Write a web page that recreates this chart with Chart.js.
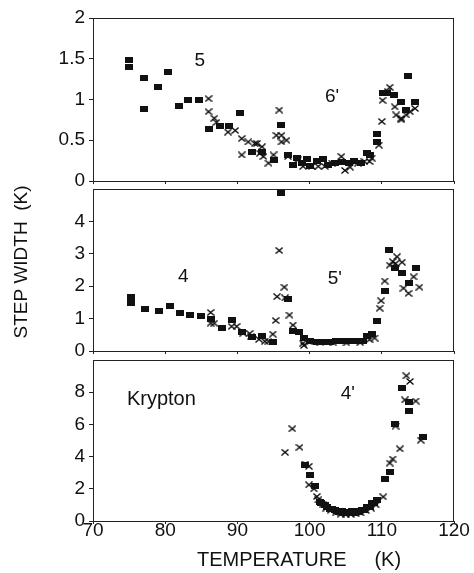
<!DOCTYPE html>
<html><head><meta charset="utf-8">
<script src="https://cdn.jsdelivr.net/npm/chart.js@4/dist/chart.umd.min.js"></script>
<style>
html,body{margin:0;padding:0;background:#fff;width:474px;height:573px;overflow:hidden}
canvas{position:absolute;left:0}
</style></head><body>
<canvas id="c1" width="474" height="190" style="top:0px"></canvas>
<canvas id="c2" width="474" height="178" style="top:181px"></canvas>
<canvas id="c3" width="474" height="222" style="top:351px"></canvas>
<script>
// ---- Data (temperature K, step width K) ----
const xTicks = [70, 80, 90, 100, 110, 120];
const yTicks1 = [0, 0.5, 1, 1.5, 2];
const yTicks2 = [0, 1, 2, 3, 4];
const yTicks3 = [0, 2, 4, 6, 8];

// Panel 1 (steps 5 / 6')
const sq1T = [75.0,75.0,77.1,77.1,79.0,80.4,81.9,83.2,84.7,86.1,87.6,88.9,90.4,92.0,93.4,95.0,96.0,97.0,97.7,98.2,98.9,99.7,100.0,101.0,101.9,102.6,103.5,104.5,105.4,106.2,107.1,107.9,108.3,109.3,109.3,110.1,110.7,111.7,112.6,113.6,113.4,114.6];
const sq1W = [1.48,1.40,1.26,0.88,1.15,1.34,0.92,1.00,0.99,0.64,0.68,0.68,0.84,0.36,0.36,0.26,0.69,0.32,0.20,0.28,0.22,0.27,0.18,0.24,0.27,0.20,0.22,0.23,0.22,0.25,0.22,0.34,0.32,0.48,0.58,1.08,1.08,1.06,0.97,1.29,0.87,0.97];
const cr1T = [86.0,86.0,86.8,87.1,88.7,89.7,90.6,90.6,91.5,92.4,92.7,93.1,93.4,93.6,94.3,95.0,95.4,95.8,96.1,96.1,96.8,97.0,98.4,99.1,100.3,101.2,102.1,103.1,104.4,104.9,105.6,106.7,107.6,108.3,108.6,109.6,110.0,110.1,110.8,111.1,111.8,112.0,112.7,112.7,113.4,113.9,114.6];
const cr1W = [1.01,0.85,0.77,0.72,0.60,0.62,0.52,0.32,0.48,0.46,0.46,0.34,0.42,0.30,0.22,0.32,0.56,0.87,0.56,0.48,0.50,0.30,0.26,0.18,0.18,0.18,0.18,0.22,0.30,0.13,0.17,0.22,0.24,0.24,0.28,0.44,0.73,0.99,1.10,1.15,0.91,0.81,0.75,0.77,0.81,0.85,0.89];

// Panel 2 (steps 4 / 5')
const sq2T = [75.2,75.2,77.2,79.2,80.7,82.1,83.4,84.9,86.3,87.9,89.2,90.6,92.0,93.4,94.9,96.1,97.0,97.7,98.6,99.2,100.1,101.0,102.0,102.8,103.7,104.6,105.6,106.5,107.4,108.0,108.7,109.4,110.4,111.0,111.8,112.8,113.7,114.7];
const sq2W = [1.68,1.49,1.31,1.23,1.38,1.18,1.11,1.07,0.98,0.72,0.95,0.60,0.42,0.47,0.29,4.89,1.60,0.63,0.60,0.40,0.30,0.28,0.29,0.28,0.30,0.31,0.31,0.30,0.30,0.46,0.52,0.93,1.86,3.12,2.55,2.40,2.09,2.55];
const cr2T = [86.3,86.3,86.8,89.2,89.9,90.8,91.7,91.9,93.0,93.8,94.3,94.9,95.3,95.5,95.8,96.5,96.6,97.2,97.7,99.1,99.2,100.0,101.5,103.3,105.1,107.0,108.3,109.0,109.7,109.9,110.4,111.1,111.5,111.9,112.1,112.8,113.0,113.7,114.4,115.2];
const cr2W = [1.19,0.86,0.86,0.76,0.76,0.55,0.54,0.45,0.36,0.30,0.30,0.52,0.94,1.68,3.10,1.97,1.64,1.11,0.80,0.24,0.17,0.28,0.26,0.25,0.25,0.26,0.35,0.40,1.32,1.55,2.16,2.65,2.76,2.70,2.91,2.74,1.94,1.78,2.29,1.97];

// Panel 3 (Krypton, step 4')
const sq3T = [99.3,100.1,100.7,101.4,101.6,102.1,102.4,102.8,103.1,103.5,103.8,104.1,104.5,104.8,105.2,105.5,105.9,106.2,106.6,106.9,107.3,107.6,108.0,108.3,108.7,108.9,109.4,110.4,111.2,111.8,112.8,113.8,113.8,115.7];
const sq3W = [3.50,2.85,2.17,1.20,1.10,0.97,0.90,0.77,0.73,0.67,0.65,0.56,0.60,0.52,0.58,0.50,0.60,0.50,0.60,0.56,0.70,0.71,0.88,0.88,1.10,1.09,1.31,2.60,3.02,6.00,8.29,7.42,6.83,5.23];
const cr3T = [96.6,97.6,98.6,99.4,99.9,99.9,100.6,101.0,101.2,101.8,102.3,102.9,103.6,104.3,105.0,105.7,106.4,107.1,107.8,108.5,109.2,110.2,111.1,111.5,111.9,112.5,113.2,113.4,113.9,114.7,115.4];
const cr3W = [4.27,5.73,4.58,3.54,3.40,2.25,2.00,1.52,1.31,1.00,0.80,0.65,0.50,0.42,0.40,0.42,0.45,0.50,0.65,0.80,1.00,1.50,3.60,3.85,5.90,4.48,7.52,9.02,8.67,7.45,5.02];

// Text labels
const panelLabels1 = ["5", "6'"];
const panelLabels2 = ["4", "5'"];
const panelLabels3 = ["Krypton", "4'"];
const xTitle = "TEMPERATURE     (K)";
const yTitle = "STEP WIDTH  (K)";

// ---- Styling ----
const FONT = "'Liberation Sans', Arial, Helvetica, sans-serif";
const INK = '#111';

function makeSquare() {
  const c = document.createElement('canvas'); c.width = 8; c.height = 6;
  const g = c.getContext('2d'); g.fillStyle = INK; g.fillRect(0, 0, 8, 6); return c;
}
function makeCross() {
  const c = document.createElement('canvas'); c.width = 8; c.height = 7;
  const g = c.getContext('2d'); g.strokeStyle = '#000'; g.lineWidth = 1.3;
  g.beginPath(); g.moveTo(0.5, 0.5); g.lineTo(7.5, 6.5); g.moveTo(7.5, 0.5); g.lineTo(0.5, 6.5); g.stroke(); return c;
}
const SQ = makeSquare(), CR = makeCross();

function pts(xs, ys) { return xs.map((x, i) => ({x: x, y: ys[i]})); }

const frame = {
  id: 'frame',
  afterDraw(chart) {
    const a = chart.chartArea, ctx = chart.ctx;
    ctx.save(); ctx.strokeStyle = '#222'; ctx.lineWidth = 1;
    ctx.strokeRect(Math.round(a.left) + 0.5, Math.round(a.top) + 0.5, Math.round(a.right - a.left) - 1, Math.round(a.bottom - a.top));
    ctx.restore();
  }
};

function annot(items) {
  return {
    id: 'annot',
    afterDraw(chart) {
      const ctx = chart.ctx, xs = chart.scales.x, ys = chart.scales.y;
      ctx.save(); ctx.fillStyle = INK; ctx.textBaseline = 'middle';
      items.forEach(it => {
        ctx.font = it.size + 'px ' + FONT;
        ctx.textAlign = it.align || 'center';
        ctx.fillText(it.t, xs.getPixelForValue(it.x), ys.getPixelForValue(it.y));
      });
      ctx.restore();
    }
  };
}

function makeChart(id, sqT, sqW, crT, crW, yMax, yShown, padTop, xH, showX, extraPlugins) {
  return new Chart(document.getElementById(id), {
    type: 'scatter',
    data: {
      datasets: [
        {label: 'squares', data: pts(sqT, sqW), pointStyle: SQ, pointRadius: 4},
        {label: 'crosses', data: pts(crT, crW), pointStyle: CR, pointRadius: 4}
      ]
    },
    options: {
      responsive: false, animation: false, devicePixelRatio: 1,
      layout: {padding: {top: padTop, left: 0, right: 20, bottom: 0}},
      plugins: {legend: {display: false}, tooltip: {enabled: false}},
      scales: {
        x: {
          type: 'linear', min: xTicks[0], max: xTicks[xTicks.length - 1],
          afterBuildTicks: s => { s.ticks = xTicks.map(v => ({value: v})); },
          afterFit: s => { s.height = xH; s.paddingLeft = 0; s.paddingRight = 0; },
          grid: {drawOnChartArea: false, drawTicks: true, tickLength: 3, color: '#222'},
          border: {display: true, color: '#222', width: 1},
          ticks: {display: showX, color: INK, padding: -3, font: {family: FONT, size: 19, lineHeight: 1}}
        },
        y: {
          type: 'linear', min: 0, max: yMax,
          afterBuildTicks: s => { s.ticks = yShown.map(v => ({value: v})); },
          afterFit: s => { s.width = 93; s.paddingTop = 0; s.paddingBottom = 0; },
          grid: {drawOnChartArea: false, drawTicks: true, tickLength: 4, color: '#222'},
          border: {display: true, color: '#222', width: 1},
          ticks: {color: INK, padding: 4, font: {family: FONT, size: 19, lineHeight: 1},
                  callback: v => String(v)}
        }
      }
    },
    plugins: [frame].concat(extraPlugins)
  });
}

const yTitlePlugin = {
  id: 'ytitle',
  afterDraw(chart) {
    const ctx = chart.ctx; ctx.save();
    ctx.fillStyle = INK; ctx.font = '19px ' + FONT; ctx.textAlign = 'center'; ctx.textBaseline = 'middle';
    ctx.translate(22, 81); ctx.rotate(-Math.PI / 2); ctx.fillText(yTitle, 0, 0);
    ctx.restore();
  }
};
const xTitlePlugin = {
  id: 'xtitle',
  afterDraw(chart) {
    const ctx = chart.ctx; ctx.save();
    ctx.fillStyle = INK; ctx.font = '20px ' + FONT; ctx.textAlign = 'center'; ctx.textBaseline = 'middle';
    ctx.fillText(xTitle, 299, 209);
    ctx.restore();
  }
};

makeChart('c1', sq1T, sq1W, cr1T, cr1W, 2, yTicks1, 18, 9, false,
  [annot([{t: panelLabels1[0], x: 84.8, y: 1.48, size: 19}, {t: panelLabels1[1], x: 103.1, y: 1.03, size: 19}])]);
makeChart('c2', sq2T, sq2W, cr2T, cr2W, 5, yTicks2, 8, 8, false,
  [annot([{t: panelLabels2[0], x: 82.5, y: 2.28, size: 19}, {t: panelLabels2[1], x: 103.5, y: 2.22, size: 19}]), yTitlePlugin]);
makeChart('c3', sq3T, sq3W, cr3T, cr3W, 10, yTicks3, 9, 52, true,
  [annot([{t: panelLabels3[0], x: 74.7, y: 7.56, size: 20, align: 'left'}, {t: panelLabels3[1], x: 105.3, y: 7.9, size: 19}]), xTitlePlugin]);
</script>
</body></html>
